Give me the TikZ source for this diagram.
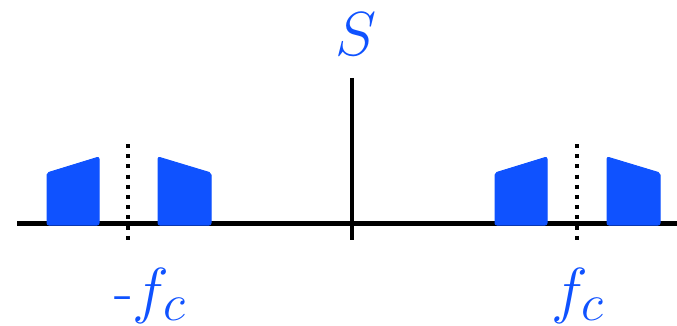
\documentclass[tikz,border=0pt]{standalone}
\usepackage{graphicx}
\definecolor{sigblue}{HTML}{0F52FF}
\tikzset{
  axisline/.style={line width=5pt, black},
  dotline/.style={line width=4pt, black, dash pattern=on 4pt off 6.2pt},
  band/.style={fill=sigblue, draw=sigblue, line width=1pt, rounded corners=2pt},
  lbl/.style={text=sigblue, inner sep=0pt, font=\Huge}
}
\newcommand{\bigtxt}[1]{\scalebox{2.5}{#1}}
\begin{document}
\begin{tikzpicture}[x=1pt, y=-1pt]
\useasboundingbox (0,0) rectangle (677,326);
% axis
\coordinate (axL) at (17,223);
\coordinate (axR) at (677,223);
\draw[axisline] (axL) -- (axR);
% center line
\coordinate (cT) at (352,78);
\coordinate (cB) at (352,240);
\draw[line width=4.5pt] (cT) -- (cB);
% dotted carriers
\coordinate (d1T) at (128,144);
\coordinate (d1B) at (128,242);
\coordinate (d2T) at (577,144);
\coordinate (d2B) at (577,242);
\draw[dotline] (d1T) -- (d1B);
\draw[dotline] (d2T) -- (d2B);
% bands
\fill[band] (47,225) -- (47,173) -- (99,157) -- (99,225) -- cycle;
\fill[band] (158,225) -- (158,157) -- (211,173) -- (211,225) -- cycle;
\fill[band] (495,225) -- (495,173) -- (547,157) -- (547,225) -- cycle;
\fill[band] (607,225) -- (607,157) -- (660,173) -- (660,225) -- cycle;
% labels
\node[lbl] (S) at (356,34) {\bigtxt{$S$}};
\node[lbl, anchor=base west] (fm) at (114,311) {\bigtxt{-$f_c$}};
\node[lbl, anchor=base west] (fp) at (551,311) {\bigtxt{$f_c$}};
\end{tikzpicture}
\end{document}
